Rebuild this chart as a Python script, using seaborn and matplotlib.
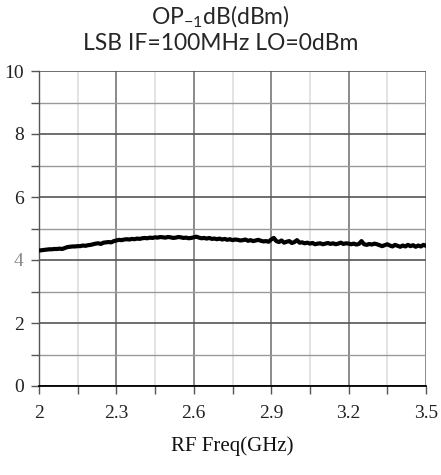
import numpy as np
import pandas as pd
import matplotlib
matplotlib.use("Agg")
import matplotlib.pyplot as plt
import seaborn as sns
from matplotlib.ticker import MultipleLocator, FixedLocator

# ---- data ----
freq_start = 2.0
freq_step = 0.01
op1db = [
    4.30, 4.31, 4.32, 4.33, 4.34, 4.34, 4.35, 4.35, 4.36, 4.35, 4.38,
    4.41, 4.42, 4.43, 4.43, 4.44, 4.44, 4.46, 4.45, 4.47, 4.48,
    4.50, 4.52, 4.53, 4.51, 4.55, 4.56, 4.57, 4.56, 4.60, 4.62,
    4.64, 4.63, 4.65, 4.66, 4.65, 4.67, 4.66, 4.68, 4.67, 4.69,
    4.70, 4.69, 4.71, 4.70, 4.72, 4.71, 4.73, 4.72, 4.71, 4.73,
    4.72, 4.70, 4.71, 4.73, 4.72, 4.70, 4.71, 4.69, 4.70, 4.72,
    4.74, 4.71, 4.69, 4.70, 4.68, 4.70, 4.67, 4.68, 4.66, 4.68,
    4.65, 4.67, 4.64, 4.66, 4.63, 4.65, 4.64, 4.62, 4.63, 4.65,
    4.61, 4.63, 4.60, 4.62, 4.64, 4.61, 4.59, 4.60, 4.58, 4.65,
    4.70, 4.60, 4.57, 4.62, 4.55, 4.58, 4.60, 4.54, 4.57, 4.63,
    4.55, 4.56, 4.53, 4.55, 4.52, 4.54, 4.50, 4.52, 4.53, 4.50,
    4.52, 4.54, 4.51, 4.53, 4.50, 4.52, 4.55, 4.51, 4.53, 4.52,
    4.50, 4.52, 4.49, 4.51, 4.60, 4.50, 4.48, 4.51, 4.49, 4.52,
    4.50, 4.47, 4.44, 4.47, 4.50, 4.46, 4.43, 4.48, 4.45, 4.42,
    4.46, 4.43, 4.48, 4.44, 4.47, 4.42, 4.46, 4.43, 4.48, 4.45,
]
freq = [round(freq_start + i * freq_step, 2) for i in range(len(op1db))]
x_ticks = [2.0, 2.3, 2.6, 2.9, 3.2, 3.5]
x_minor_ticks = [2.15, 2.45, 2.75, 3.05, 3.35]
x_tick_labels = ["2", "2.3", "2.6", "2.9", "3.2", "3.5"]
y_ticks = [0, 2, 4, 6, 8, 10]
y_tick_labels = ["0", "2", "4", "6", "8", "10"]
title_line1 = "OP$_{\\mathregular{-1}}$dB(dBm)"
title_line2 = "LSB IF=100MHz LO=0dBm"
x_label = "RF Freq(GHz)"

df = pd.DataFrame({"freq": freq, "op1db": op1db})

sns.set_style("white")
plt.rcParams["font.family"] = ["Liberation Serif", "DejaVu Serif"]
plt.rcParams["mathtext.fontset"] = "custom"

fig = plt.figure(figsize=(4.41, 4.75), dpi=100)
ax = fig.add_axes([39 / 441, 1 - 386 / 475, (426 - 39) / 441, (386 - 71) / 475])

sns.lineplot(data=df, x="freq", y="op1db", ax=ax, color="black", linewidth=3.0, zorder=5)

ax.set_xlim(2.0, 3.5)
ax.set_ylim(0, 10)
ax.set_xticks(x_ticks)
ax.set_xticklabels(x_tick_labels)
ax.set_yticks(y_ticks)
ax.set_yticklabels(y_tick_labels)
ax.xaxis.set_minor_locator(FixedLocator(x_minor_ticks))
ax.yaxis.set_minor_locator(MultipleLocator(1))

ax.grid(which="major", axis="x", color="#777777", linewidth=1.2)
ax.grid(which="minor", axis="x", color="#e0e0e0", linewidth=1.3)
ax.grid(which="major", axis="y", color="#555555", linewidth=1.2)
ax.grid(which="minor", axis="y", color="#999999", linewidth=1.0)
ax.set_axisbelow(True)

for s in ["top", "right"]:
    ax.spines[s].set_visible(False)
ax.spines["left"].set_color("#555555")
ax.spines["left"].set_linewidth(1.0)
ax.spines["bottom"].set_color("black")
ax.spines["bottom"].set_linewidth(1.3)
ax.spines["bottom"].set_zorder(6)

ax.tick_params(which="both", direction="out", length=6, width=1, color="#555555",
               left=True, bottom=True)
ax.tick_params(axis="both", which="major", labelsize=14, pad=5, labelcolor="#222222")
ax.tick_params(axis="x", which="major", pad=8)
for lbl in ax.get_yticklabels():
    if lbl.get_text() == "4":
        lbl.set_color("#888888")

ax.set_xlabel(x_label, fontsize=15, labelpad=10, color="#111111")
ax.set_ylabel("")

fig.text(0.5, 1 - 17 / 475, title_line1, ha="center", va="center",
         fontsize=16.5, family=["Lato", "DejaVu Sans"])
fig.text(0.5, 1 - 43 / 475, title_line2, ha="center", va="center",
         fontsize=16.5, family=["Lato", "DejaVu Sans"])

fig.savefig("out.png", dpi=100)
